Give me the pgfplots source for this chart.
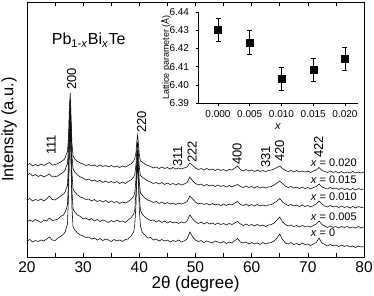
\documentclass[border=0pt]{standalone}
\usepackage{fontspec}
\setmainfont{Liberation Sans}
\usepackage{pgfplots}
\pgfplotsset{compat=1.18}
\usepackage{pgfplotstable}

\pgfplotstableread{
x c0 c1 c2 c3 c4
20.0 16 35 57 82 92
20.5 17.5 37 58.5 83.5 93.5
21.0 15 35.5 56 81 91
21.5 16.5 37.5 57.5 82.5 92.5
22.0 15.5 36 56.5 80.5 91
22.5 17 34.5 58 82 93
23.0 16 37 56 80 91.5
23.5 18 36 58 81.5 93
24.0 20 39 61 83 94.5
24.5 17 36.5 57.5 80 92
25.0 16.5 37 57 80.5 92.5
25.5 19 38 59 81 93.5
26.0 20.5 40.5 61 83 95
26.5 23 42 63 85 97
26.8 25 45 65 87 99
27.0 29 48 69 91 103
27.2 33 52 71 93 105
27.4 62 78 94 110 121
27.55 107 119 131 141 150
27.7 130 140 148 156 164
27.85 90 104 117 129 139
28.0 50 67 85 102 114
28.2 30 48 68 88 101
28.5 27 45 65 85 98
29.0 24 42 62 82 95.5
29.5 22 40.5 60 80 94
30.0 21 38 59 79 93
30.5 19.5 39 57.5 77 91.5
31.0 20 37 58 78 92.5
31.5 18 38.5 56 76 91
32.0 19 36 57.5 77 92
32.5 17 37.5 55.5 75.5 90.5
33.0 18.5 35.5 56.5 76.5 92
33.5 16.5 37 55 74.5 90.5
34.0 18 36 56.5 76 91.5
34.5 17 34.5 54.5 74.5 90
35.0 15.5 36.5 56 75.5 91.5
35.5 17.5 35 54.5 74 90
36.0 16 37 55.5 75.5 91
36.5 17 35.5 53.5 73.5 89.5
37.0 15.5 36 55 75 91
37.5 17.5 34.5 54 73.5 90
38.0 18 37 55.5 75.5 91.5
38.5 21 39 57.5 77 93
39.0 25 43 61 80 96
39.2 33 48 65 83 99
39.4 52 65 78 92.5 104
39.55 79 89 97 107 115.5
39.7 95 102 108 115 122
39.85 72 82 92 103 112.5
40.0 47 60 75 89.5 102
40.2 31 47 64 81.5 96
40.5 25 43 62 80 95
41.0 22 40 59 78 93
41.5 19 38 57 76 91.5
42.0 19.5 36.5 56 75 90.5
42.5 17 37 54.5 73.5 89
43.0 18 35 55.5 74.5 90
43.5 16 36.5 53.5 73 88.5
44.0 17.5 34.5 55 74.5 90
44.5 16 36 53 72.5 88.5
45.0 17 34 54.5 74 89.5
45.5 15 35.5 53 72.5 88
46.0 16.5 34 54 73.5 89.5
46.5 15.5 35 52.5 72 88
47.0 17 33.5 54 73.5 89
47.5 15 35 53 72 88
48.0 16 34 54 73 89
48.5 18 36 55.5 74.5 90
49.0 25 42 61 80 94
49.5 20 38 58 76 91.5
50.0 17 35 55 73.5 89
50.5 15.5 33.5 53 72 87.5
51.0 16.5 35 54 73 88.5
51.5 14.5 33 52.5 71 87
52.0 16 34.5 53.5 72.5 88.5
52.5 15 33 52 71 87
53.0 14 34 53.5 72 88
53.5 16 32.5 52 70.5 86.5
54.0 15 34 53 72 88
54.5 14 32.5 51.5 70.5 86.5
55.0 15.5 33.5 53 71.5 87.5
55.5 13.5 32 51.5 70 86
56.0 15 33.5 53 71.5 87.5
56.5 14 32.5 52 70 87
57.0 16.5 34 54 71.5 89
57.5 18.5 35.5 55.5 72.5 91
58.0 15 33 52.5 70.5 87.5
58.5 14 31.5 51.5 69.5 86
59.0 15 33 53 71 87.5
59.5 13 31.5 51 69.5 86
60.0 14.5 32.5 52.5 70.5 87
60.5 13 31 51 69 85.5
61.0 14 32.5 52.5 70.5 87
61.5 12.5 31 51 69 85.5
62.0 14.5 32 52 70 86.5
62.5 13 30.5 51 69 85.5
63.0 14 32 52 70 86.5
63.5 14.5 32.5 52.5 70.5 87
64.0 16 34 54 72 88
64.5 19 37 56 74 89.5
65.0 23 40 58.5 76 91
65.5 17.5 35 55 73.5 88.5
66.0 14 32.5 53 71 86.5
66.5 13 31 51.5 69.5 85.5
67.0 14.5 32 52.5 70.5 86.5
67.5 12.5 30.5 51 69 85
68.0 13.5 31.5 52 70 86.5
68.5 12 30 50.5 68.5 85
69.0 14 31.5 52 70 86
69.5 12.5 30.5 50.5 68.5 85
70.0 13 31 51.5 69.5 86
70.5 11.5 30 50 68 84.5
71.0 13 31.5 51.5 69.5 86
71.5 14.5 33 53 70.5 87
72.0 19 36 56 73 89.5
72.5 14 32.5 53 70 86.5
73.0 12.5 31 51 69 85.5
73.5 11 29.5 50 68 84.5
74.0 12.5 31 51.5 69.5 86
74.5 11 29.5 50 68 84.5
75.0 12 30.5 51 69 85.5
75.5 10.5 29 49.5 67.5 84
76.0 12 30.5 51 69 85.5
76.5 10.5 29.5 49.5 67.5 84
77.0 11.5 30.5 50.5 68.5 85
77.5 10 29 49 67 84
78.0 11 30 50.5 68.5 85.5
78.5 9.5 29 49 67 84
79.0 11 30.5 50.5 68.5 85
79.5 10 29 49.5 67.5 84
80.0 10.5 30 50 68 85
}\xrd

\begin{document}
\begin{tikzpicture}
\begin{axis}[
  name=main,
  at={(0pt,0pt)}, anchor=south west,
  scale only axis, width=337pt, height=255pt,
  xmin=20, xmax=80, ymin=0, ymax=255,
  xtick={20,30,40,50,60,70,80},
  minor xtick={25,35,45,55,65,75},
  ytick=\empty,
  tick align=inside,
  major tick length=4pt, minor tick length=4pt,
  tick style={black, line width=0.6pt},
  axis line style={line width=0.7pt},
  /pgf/number format/assume math mode=true,
  xticklabel style={font=\fontsize{15.5}{15.5}\selectfont, anchor=center, yshift=-10.5pt},
  xlabel={2θ (degree)},
  xlabel style={font=\fontsize{17}{17}\selectfont, at={(axis description cs:0.5,0)}, anchor=center, yshift=-27pt},
  ylabel={Intensity (a.u.)},
  ylabel style={font=\fontsize{16.5}{16.5}\selectfont, at={(axis description cs:0,0.5)}, anchor=center, xshift=0pt, yshift=18pt},
  clip=false,
]
\addplot[black, line width=0.55pt] table[x=x,y=c0]{\xrd};
\addplot[black, line width=0.55pt] table[x=x,y=c1]{\xrd};
\addplot[black, line width=0.55pt] table[x=x,y=c2]{\xrd};
\addplot[black, line width=0.55pt] table[x=x,y=c3]{\xrd};
\addplot[black, line width=0.55pt] table[x=x,y=c4]{\xrd};

\begin{scope}[every node/.style={rotate=90, anchor=west, inner sep=0pt, font=\fontsize{13}{13}\selectfont}]
\node at (axis cs:24.3,102) {111};
\node at (axis cs:27.95,167) {200};
\node at (axis cs:40.4,124) {220};
\node at (axis cs:46.8,90) {311};
\node at (axis cs:49.4,94) {222};
\node at (axis cs:57.4,92) {400};
\node at (axis cs:62.5,89) {331};
\node at (axis cs:65.0,95) {420};
\node at (axis cs:71.9,99) {422};
\end{scope}

\begin{scope}[every node/.style={anchor=west, inner sep=0pt, font=\fontsize{11}{11}\selectfont}]
\node at (axis cs:70.5,94) {\textit{x} = 0.020};
\node at (axis cs:70.5,77) {\textit{x} = 0.015};
\node at (axis cs:70.5,60) {\textit{x} = 0.010};
\node at (axis cs:70.5,40) {\textit{x} = 0.005};
\node at (axis cs:70.5,24) {\textit{x} = 0};
\end{scope}

\node[anchor=west, inner sep=0pt, font=\fontsize{16}{16}\selectfont] at (axis cs:24.4,217)
  {Pb\textsubscript{1-\textit{x}}Bi\textsubscript{\textit{x}}Te};
\end{axis}

\begin{axis}[
  at={(171pt,154pt)}, anchor=south west,
  scale only axis, width=160pt, height=91pt,
  xmin=-0.00315, xmax=0.02205, ymin=6.39, ymax=6.44,
  axis x line*=bottom, axis y line*=left,
  axis line style={-, line width=0.7pt},
  xtick={0,0.005,0.01,0.015,0.02},
  ytick={6.39,6.40,6.41,6.42,6.43,6.44},
  scaled x ticks=false, scaled y ticks=false,
  tick align=outside, major tick length=2.5pt,
  tick style={black, line width=0.6pt},
  /pgf/number format/assume math mode=true,
  xticklabel style={font=\fontsize{10}{10}\selectfont, anchor=center, yshift=-9pt,
    /pgf/number format/.cd, fixed, fixed zerofill, precision=3},
  yticklabel style={font=\fontsize{10}{10}\selectfont, anchor=east, xshift=-3pt,
    /pgf/number format/.cd, fixed, fixed zerofill, precision=2},
  xlabel={\textit{x}},
  xlabel style={font=\fontsize{11}{11}\selectfont, at={(axis description cs:0.5,0)}, anchor=center, yshift=-24pt},
  ylabel={Lattice parameter (\AA)},
  ylabel style={font=\fontsize{9}{9}\selectfont, at={(axis description cs:0,0.5)}, anchor=center, xshift=0pt, yshift=32pt},
]
\addplot[only marks, mark=square*, mark size=3.5pt, black,
  error bars/.cd, y dir=both, y explicit,
  error bar style={line width=0.8pt, black},
  error mark options={rotate=90, mark size=2.5pt, line width=0.8pt, black}]
  coordinates {
  (0.000,6.4303) +- (0,0.0064)
  (0.005,6.4233) +- (0,0.0064)
  (0.010,6.4033) +- (0,0.0064)
  (0.015,6.4083) +- (0,0.0064)
  (0.020,6.4143) +- (0,0.0064)
  };
\end{axis}
\pgfresetboundingbox
\path (-27pt,-38pt) rectangle (347pt,257pt);
\end{tikzpicture}
\end{document}
